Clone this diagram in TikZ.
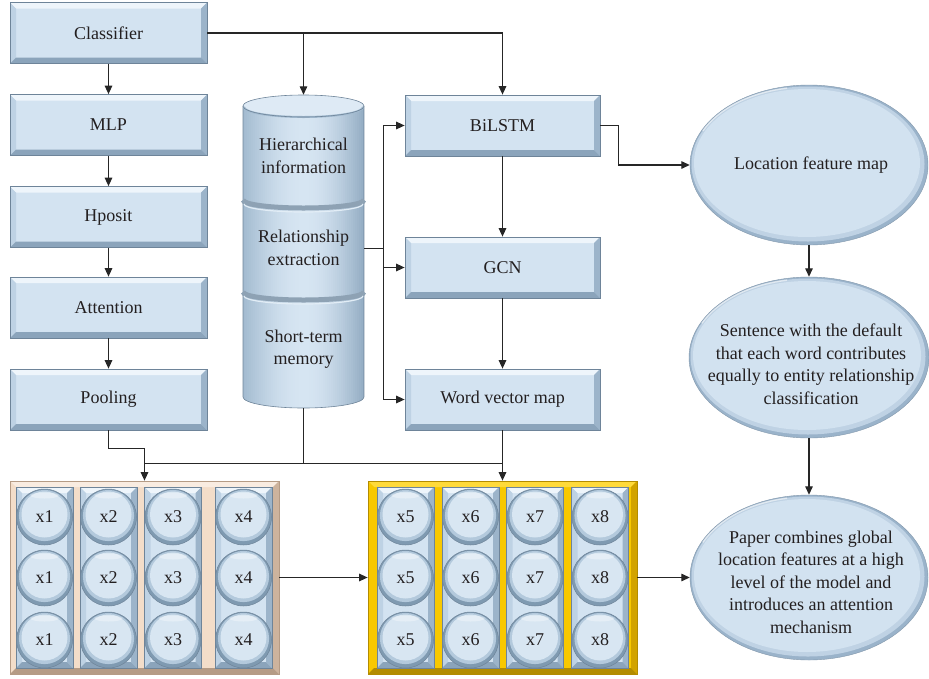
\documentclass[tikz,border=0pt]{standalone}
\usepackage{fontspec}
\setmainfont{Liberation Serif}
\usetikzlibrary{arrows.meta,shapes.geometric,calc}

\definecolor{face}{HTML}{D3E3F1}
\definecolor{btop}{HTML}{EEF5FB}
\definecolor{bleft}{HTML}{BED2E4}
\definecolor{bright}{HTML}{9CB4CA}
\definecolor{bbot}{HTML}{8BA4BB}
\definecolor{outl}{HTML}{6E8499}
\definecolor{linec}{HTML}{262626}
\definecolor{txtc}{HTML}{231F20}
\definecolor{peach}{HTML}{F3DDC9}
\definecolor{peachlt}{HTML}{F9ECE1}
\definecolor{peachdk}{HTML}{CDB39D}
\definecolor{peachdk2}{HTML}{B59B85}
\definecolor{gold}{HTML}{F8C800}
\definecolor{goldlt}{HTML}{FFDA3A}
\definecolor{golddk}{HTML}{D2A300}
\definecolor{golddk2}{HTML}{B38C00}
\definecolor{ellin}{HTML}{D2E2F0}
\definecolor{ellmid}{HTML}{BFD2E4}
\definecolor{ellout}{HTML}{9AB3CA}
\definecolor{btnin}{HTML}{D8E6F2}
\definecolor{btnmid}{HTML}{B3C9DC}
\definecolor{btnout}{HTML}{7F9AB1}
\definecolor{cylL}{HTML}{A3BBD0}
\definecolor{cylM}{HTML}{D6E5F2}
\definecolor{cylR}{HTML}{93ACC3}
\definecolor{sepc}{HTML}{8EA2B4}

\tikzset{
  bevel/.style n args={6}{path picture={
    \fill[#6] (path picture bounding box.south west) rectangle (path picture bounding box.north east);
    \fill[#2] (path picture bounding box.north west) -- (path picture bounding box.north east) -- ([shift={(-#1,-#1)}]path picture bounding box.north east) -- ([shift={(#1,-#1)}]path picture bounding box.north west) -- cycle;
    \fill[#3] (path picture bounding box.north west) -- (path picture bounding box.south west) -- ([shift={(#1,#1)}]path picture bounding box.south west) -- ([shift={(#1,-#1)}]path picture bounding box.north west) -- cycle;
    \fill[#4] (path picture bounding box.north east) -- (path picture bounding box.south east) -- ([shift={(-#1,#1)}]path picture bounding box.south east) -- ([shift={(-#1,-#1)}]path picture bounding box.north east) -- cycle;
    \fill[#5] (path picture bounding box.south west) -- (path picture bounding box.south east) -- ([shift={(-#1,#1)}]path picture bounding box.south east) -- ([shift={(#1,#1)}]path picture bounding box.south west) -- cycle;
  }},
  txt/.style={font=\fontsize{18}{22.5}\selectfont, text=txtc, align=center},
  box/.style={txt, rectangle, draw=outl, line width=0.7pt, inner sep=0pt,
    minimum height=61pt, bevel={6pt}{btop}{bleft}{bright}{bbot}{face}},
  leftbox/.style={box, minimum width=197pt},
  rightbox/.style={box, minimum width=195pt},
  colbox/.style={rectangle, draw=outl, line width=0.6pt, inner sep=0pt,
    minimum width=57pt, minimum height=181pt, bevel={6pt}{btop}{bleft}{bright}{bbot}{face}},
  frameA/.style={rectangle, draw=peachdk2, line width=0.7pt, inner sep=0pt,
    minimum width=269pt, minimum height=193pt, bevel={6pt}{peachlt}{peach}{peachdk}{peachdk2}{peach}},
  frameB/.style={rectangle, draw=golddk2, line width=0.7pt, inner sep=0pt,
    minimum width=269pt, minimum height=193pt, bevel={6pt}{goldlt}{gold}{golddk}{golddk2}{gold}},
  btn/.style={txt, circle, minimum size=56pt, inner sep=0pt, draw=outl, line width=0.5pt, fill=btnout,
    path picture={
      \fill[btnmid] ([yshift=1.5pt]path picture bounding box.center) circle (25.6pt);
      \fill[btnin] ([yshift=2.5pt]path picture bounding box.center) circle (23pt);
      \fill[white, opacity=0.35] ([yshift=2.5pt]path picture bounding box.center) ++(0pt,19pt) ellipse (14pt and 3pt);
    }},
  ell/.style 2 args={ellipse, inner sep=0pt, draw=ellout!85!black, line width=0.4pt, fill=ellout,
    minimum width=#1, minimum height=#2,
    path picture={
      \fill[ellmid] ([shift={(-1pt,1pt)}]path picture bounding box.center) ellipse ({0.5*#1-2.5pt} and {0.5*#2-2.5pt});
      \fill[ellin] ([shift={(-2pt,2pt)}]path picture bounding box.center) ellipse ({0.5*#1-6pt} and {0.5*#2-6pt});
      \draw[white, opacity=0.55, line width=1.5pt] ([shift={(-2pt,2pt)}]path picture bounding box.center) ++(155:{0.5*#1-4pt} and {0.5*#2-4pt}) arc (155:100:{0.5*#1-4pt} and {0.5*#2-4pt});
    }},
  ln/.style={draw=linec, line width=1.3pt},
  arr/.style={ln, -{Triangle[length=8.5pt,width=7.5pt]}},
}

\begin{document}
\begin{tikzpicture}[x=1pt,y=-1pt]
\useasboundingbox (0,0) rectangle (929,678);

% left column
\node[leftbox] (clf) at (108.5,33) {Classifier};
\node[leftbox] (mlp) at (108.5,125) {MLP};
\node[leftbox] (hpo) at (108.5,217) {Hposit};
\node[leftbox] (att) at (108.5,307.5) {Attention};
\node[leftbox] (pool) at (108.5,399.5) {Pooling};

% right boxes
\node[rightbox] (bilstm) at (502.5,125.5) {BiLSTM};
\node[rightbox] (gcn) at (502.5,267.5) {GCN};
\node[rightbox] (wvm) at (502.5,399.5) {Word vector map};

% cylinder
\node[minimum width=121pt, minimum height=313pt, inner sep=0pt] (cyl) at (303.5,251.5) {};
\begin{scope}
  \clip (243,106) -- (243,397) arc (180:0:60.5 and 11) -- (364,106) -- cycle;
  \foreach \k in {0,...,60}{
    \pgfmathsetmacro{\xa}{243+2*\k}
    \pgfmathsetmacro{\pa}{100*sin(3*\k)}
    \ifnum\k<31
      \fill[cylM!\pa!cylL] (\xa,90) rectangle ++(2.3,330);
    \else
      \fill[cylM!\pa!cylR] (\xa,90) rectangle ++(2.3,330);
    \fi
  }
\end{scope}
\draw[outl, line width=0.6pt] (243,106) -- (243,397) arc (180:0:60.5 and 11) -- (364,106);
\draw[sepc, line width=5pt] (243,200) arc (180:0:60.5 and 8);
\draw[sepc, line width=5pt] (243,292) arc (180:0:60.5 and 8);
\draw[cylM!70!white, line width=1.2pt] (244,204) arc (180:0:59.5 and 8);
\draw[cylM!70!white, line width=1.2pt] (244,296) arc (180:0:59.5 and 8);
\fill[cylM!80!white] (303.5,106) ellipse (60.5 and 11);
\draw[cylL, line width=2pt] (244,107) arc (180:0:59.5 and 10);
\draw[outl, line width=0.6pt] (303.5,106) ellipse (60.5 and 11);
\node[txt] (cyt1) at (303.5,156) {Hierarchical\\information};
\node[txt] (cyt2) at (303.5,248) {Relationship\\extraction};
\node[txt] (cyt3) at (303.5,349) {Short-term\\memory};

% ellipses
\node[ell={238pt}{160pt}] (e1) at (809,165) {};
\node[txt] (e1t) at (811,165) {Location feature map};
\node[ell={240pt}{161pt}] (e2) at (809,357.5) {};
\node[txt] (e2t) at (811,364) {Sentence with the default\\that each word contributes\\equally to entity relationship\\classification};
\node[ell={238pt}{165pt}] (e3) at (809,577.5) {};
\node[txt] (e3t) at (811,582) {Paper combines global\\location features at a high\\level of the model and\\introduces an attention\\mechanism};

% matrices
\node[frameA] (m1) at (144.5,577.5) {};
\node[frameB] (m2) at (502.5,577.5) {};
\foreach \xc/\lab [count=\i] in {44.5/x1,108.5/x2,173/x3,243.5/x4}{
  \node[colbox] (m1c\i) at (\xc,577.5) {};
  \foreach \yc [count=\j] in {517,578,640}{
    \node[btn] (m1b\i\j) at (\xc,\yc) {\lab};
  }
}
\foreach \xc/\lab [count=\i] in {405.5/x5,470.5/x6,535/x7,600/x8}{
  \node[colbox] (m2c\i) at (\xc,577.5) {};
  \foreach \yc [count=\j] in {517,578,640}{
    \node[btn] (m2b\i\j) at (\xc,\yc) {\lab};
  }
}

% connectors
\draw[arr] (clf) -- (mlp);
\draw[arr] (mlp) -- (hpo);
\draw[arr] (hpo) -- (att);
\draw[arr] (att) -- (pool);
\draw[arr] (clf.east) -| (bilstm.north);
\draw[arr] (clf.east -| cyl.north) -- (cyl.north);
\draw[ln] ([yshift=3pt]cyl.east) -- ++(19,0) coordinate (busj);
\draw[ln] (busj |- bilstm.west) -- (busj |- wvm.west);
\draw[arr] (busj |- bilstm.west) -- (bilstm.west);
\draw[arr] (busj |- gcn.west) -- (gcn.west);
\draw[arr] (busj |- wvm.west) -- (wvm.west);
\draw[arr] (bilstm) -- (gcn);
\draw[arr] (gcn) -- (wvm);
\draw[arr] (bilstm.east) -- ++(18,0) |- (e1.west);
\draw[arr] (e1) -- (e2);
\draw[arr] (e2) -- (e3);
\draw[arr] (pool.south) -- ++(0,18) -| (m1.north);
\draw[ln] (cyl.south) -- ++(0,55) coordinate (botj);
\draw[ln] (botj -| m1.north) -- (botj -| m2.north);
\draw[arr] (wvm) -- (m2);
\draw[arr] (m1) -- (m2);
\draw[arr] (m2) -- (e3);
\end{tikzpicture}
\end{document}
